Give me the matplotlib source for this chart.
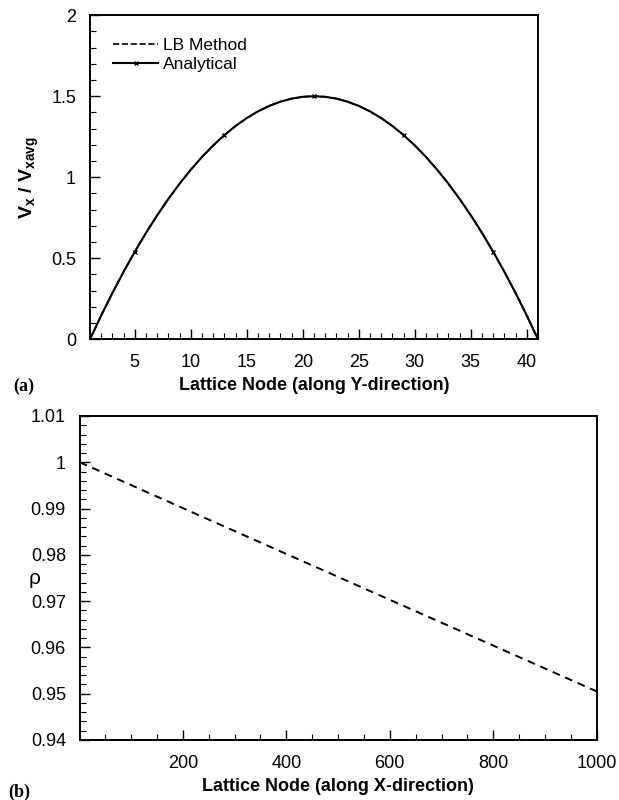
import matplotlib
matplotlib.use("Agg")
import matplotlib.pyplot as plt
from matplotlib.ticker import MultipleLocator

plt.rcParams['font.family'] = ['Liberation Sans', 'DejaVu Sans']
plt.rcParams['mathtext.fontset'] = 'custom'
plt.rcParams['mathtext.rm'] = 'Liberation Sans'
plt.rcParams['mathtext.bf'] = 'Liberation Sans:bold'
plt.rcParams['mathtext.it'] = 'Liberation Sans:italic'

# ---- Data: panel (a) ----
nodes_y = list(range(1, 42))
vel_analytical = [0.0, 0.14625, 0.285, 0.41625, 0.54, 0.65625, 0.765, 0.86625, 0.96, 1.04625,
                  1.125, 1.19625, 1.26, 1.31625, 1.365, 1.40625, 1.44, 1.46625, 1.485, 1.49625,
                  1.5, 1.49625, 1.485, 1.46625, 1.44, 1.40625, 1.365, 1.31625, 1.26, 1.19625,
                  1.125, 1.04625, 0.96, 0.86625, 0.765, 0.65625, 0.54, 0.41625, 0.285, 0.14625, 0.0]
vel_lb = [0.0, 0.1463, 0.2851, 0.4163, 0.5401, 0.6563, 0.7651, 0.8663, 0.9601, 1.0463,
          1.1251, 1.1963, 1.2601, 1.3163, 1.3651, 1.4063, 1.4401, 1.4663, 1.4851, 1.4963,
          1.5001, 1.4963, 1.4851, 1.4663, 1.4401, 1.4063, 1.3651, 1.3163, 1.2601, 1.1963,
          1.1251, 1.0463, 0.9601, 0.8663, 0.7651, 0.6563, 0.5401, 0.4163, 0.2851, 0.1463, 0.0]
marker_nodes = [5, 13, 21, 29, 37]

# ---- Data: panel (b) ----
nodes_x = [1, 200, 400, 600, 800, 1000]
rho_lb = [1.0, 0.9901, 0.9802, 0.9703, 0.9604, 0.9505]

fig = plt.figure(figsize=(6.19, 8.0), dpi=100)

# Panel (a)
ax1 = fig.add_axes([0.1454, 0.576, 0.7237, 0.405])
ax1.plot(nodes_y, vel_lb, linestyle='--', color='black', lw=1.2, label='LB Method')
ax1.plot(nodes_y, vel_analytical, linestyle='-', color='black', lw=1.5,
         marker='x', markersize=3, markevery=[n - 1 for n in marker_nodes],
         label='Analytical')
ax1.set_xlim(1, 41)
ax1.set_ylim(0, 2)
ax1.set_xticks([5, 10, 15, 20, 25, 30, 35, 40])
ax1.xaxis.set_minor_locator(MultipleLocator(1))
ax1.set_yticks([0, 0.5, 1, 1.5, 2])
ax1.set_yticklabels(['0', '0.5', '1', '1.5', '2'])
ax1.yaxis.set_minor_locator(MultipleLocator(0.1))
ax1.set_xlabel('Lattice Node (along Y-direction)', fontsize=13, fontweight='bold', va='top')
ax1.xaxis.set_label_coords(0.5, -0.117)
ax1.set_ylabel(r'$\mathbf{V_x\ /\ V_{xavg}}$', fontsize=14)
ax1.yaxis.set_label_coords(-0.11, 0.5)
ax1.legend(loc='upper left', frameon=False, fontsize=12.5, handlelength=2.6,
           handletextpad=0.25, borderaxespad=0.0, labelspacing=0.2,
           bbox_to_anchor=(0.036, 0.95))

# Panel (b)
ax2 = fig.add_axes([0.129, 0.075, 0.835, 0.405])
ax2.plot(nodes_x, rho_lb, linestyle='--', color='black', lw=1.4, dashes=(4, 3))
ax2.set_xlim(1, 1000)
ax2.set_ylim(0.94, 1.01)
ax2.set_xticks([200, 400, 600, 800, 1000])
ax2.xaxis.set_minor_locator(MultipleLocator(50))
ax2.set_yticks([0.94, 0.95, 0.96, 0.97, 0.98, 0.99, 1.0, 1.01])
ax2.set_yticklabels(['0.94', '0.95', '0.96', '0.97', '0.98', '0.99', '1', '1.01'])
ax2.yaxis.set_minor_locator(MultipleLocator(0.002))
ax2.set_xlabel('Lattice Node (along X-direction)', fontsize=13, fontweight='bold', va='top')
ax2.xaxis.set_label_coords(0.5, -0.117)
ax2.set_ylabel('ρ', fontsize=15, rotation=0, va='center', ha='center')
ax2.yaxis.set_label_coords(-0.087, 0.5)

for ax in (ax1, ax2):
    ax.tick_params(which='both', direction='in', top=False, right=False, labelsize=13)
    ax.tick_params(which='major', length=7, width=1.0)
    ax.tick_params(which='minor', length=4, width=0.8)
    ax.tick_params(axis='x', pad=10.5)
    ax.tick_params(axis='y', pad=10)
    for s in ax.spines.values():
        s.set_linewidth(1.4)

fig.text(13 / 619, 1 - 386 / 800, '(a)', fontsize=13, fontweight='bold',
         family=['Liberation Serif'], va='center', ha='left')
fig.text(8 / 619, 1 - 792 / 800, '(b)', fontsize=13, fontweight='bold',
         family=['Liberation Serif'], va='center', ha='left')

fig.savefig('out.png', dpi=100)
